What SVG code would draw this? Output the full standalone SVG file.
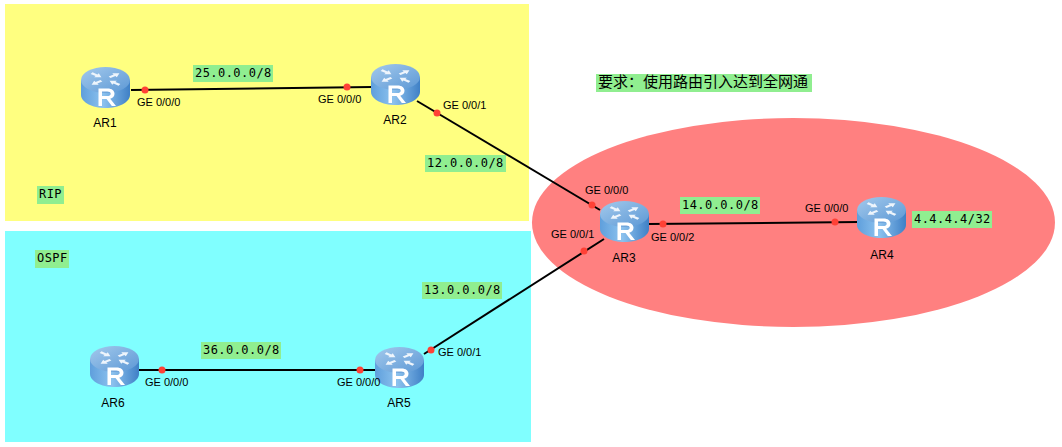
<svg xmlns="http://www.w3.org/2000/svg" width="1062" height="447" viewBox="0 0 1062 447">
<style>
.ge{font:11px "Liberation Sans",Arial,sans-serif;fill:#000}
.name{font:12px "Liberation Sans",Arial,sans-serif;fill:#000;text-anchor:middle}
.net{font:12px "DejaVu Sans Mono","Liberation Mono",monospace;fill:#000;letter-spacing:.45px}
.bg{fill:#90ee90}
.link{stroke:#000;stroke-width:2;fill:none}
.dot{fill:#ff4136}
</style>
<defs>
<linearGradient id="side" x1="0" x2="1" y1="0" y2="0"><stop offset="0" stop-color="#5f9fdc"/><stop offset=".45" stop-color="#8cc2ee"/><stop offset="1" stop-color="#3f80c6"/></linearGradient>
<linearGradient id="top" x1="0" x2="1" y1="0" y2="1"><stop offset="0" stop-color="#a3c9ec"/><stop offset="1" stop-color="#5c98d5"/></linearGradient>
<path id="arr" d="M5 -1.600H11V-4L17 0 11 4V1.600H5Z" fill="#eef5fc"/>
<g id="router">
<path d="M0 13V28C0 35 11 41 24.500 41S49 35 49 28V13Z" fill="url(#side)"/>
<ellipse cx="24.500" cy="13" rx="24.500" ry="13" fill="url(#top)"/>
<g transform="translate(24.500 12) scale(1 .6)">
<use href="#arr" transform="rotate(-35)"/>
<use href="#arr" transform="rotate(145)"/>
<use href="#arr" transform="rotate(215) translate(22 0) rotate(180)"/>
<use href="#arr" transform="rotate(35) translate(22 0) rotate(180)"/>
</g>
<path d="M17.500 39V21.500h9c4.500 0 7 2.200 7 5.300 0 2.600-1.700 4.300-4.300 4.900l5.800 7.300h-4.200l-5.300-7H21v7ZM21 24.500v4.600h5.200c2 0 3.500-.7 3.500-2.300s-1.500-2.300-3.500-2.300Z" fill="#fff"/>
</g>
</defs>
<rect width="1062" height="447" fill="#fff"/>
<g id="zones">
<rect x="5" y="4" width="524" height="217" fill="#ffff80"/>
<rect x="5" y="231" width="526" height="211" fill="#80ffff"/>
<ellipse cx="793.500" cy="222.500" rx="261.500" ry="104.500" fill="#ff8080"/>
</g>
<g id="connectors">
<path class="link" d="M131 90L372 87"/>
<path class="link" d="M417 101L600 210"/>
<path class="link" d="M648 224L859 222"/>
<path class="link" d="M424 354L604 239"/>
<path class="link" d="M138 370H376"/>
<circle class="dot" cx="145" cy="90" r="3.500"/><circle class="dot" cx="347" cy="87" r="3.500"/>
<circle class="dot" cx="437" cy="113" r="3.500"/><circle class="dot" cx="592" cy="205" r="3.500"/>
<circle class="dot" cx="584" cy="251" r="3.500"/><circle class="dot" cx="431" cy="350" r="3.500"/>
<circle class="dot" cx="663" cy="224" r="3.500"/><circle class="dot" cx="835" cy="222" r="3.500"/>
<circle class="dot" cx="162" cy="370" r="3.500"/><circle class="dot" cx="360" cy="370" r="3.500"/>
</g>
<g id="AR1"><use href="#router" x="81" y="67"/><text class="name" x="105" y="127">AR1</text></g>
<g id="AR2"><use href="#router" x="371" y="64"/><text class="name" x="395" y="124">AR2</text></g>
<g id="AR3"><use href="#router" x="600" y="201"/><text class="name" x="624" y="262">AR3</text></g>
<g id="AR4"><use href="#router" x="857" y="197"/><text class="name" x="882" y="259">AR4</text></g>
<g id="AR5"><use href="#router" x="375" y="347"/><text class="name" x="399" y="407">AR5</text></g>
<g id="AR6"><use href="#router" x="90" y="346"/><text class="name" x="113" y="407">AR6</text></g>
<g id="port-labels">
<text class="ge" x="137" y="106">GE 0/0/0</text>
<text class="ge" x="318" y="103">GE 0/0/0</text>
<text class="ge" x="443" y="109">GE 0/0/1</text>
<text class="ge" x="585" y="194">GE 0/0/0</text>
<text class="ge" x="551" y="238">GE 0/0/1</text>
<text class="ge" x="651" y="241">GE 0/0/2</text>
<text class="ge" x="805" y="212">GE 0/0/0</text>
<text class="ge" x="145" y="386">GE 0/0/0</text>
<text class="ge" x="337" y="386">GE 0/0/0</text>
<text class="ge" x="438" y="356">GE 0/0/1</text>
</g>
<g id="net-labels">
<rect class="bg" x="193" y="65" width="80" height="17"/><text class="net" x="195" y="77">25.0.0.0/8</text>
<rect class="bg" x="425" y="155" width="81" height="17"/><text class="net" x="427" y="167">12.0.0.0/8</text>
<rect class="bg" x="680" y="197" width="80" height="17"/><text class="net" x="682" y="209">14.0.0.0/8</text>
<rect class="bg" x="912" y="211" width="80" height="17"/><text class="net" x="914" y="223">4.4.4.4/32</text>
<rect class="bg" x="422" y="282" width="80" height="17"/><text class="net" x="424" y="294">13.0.0.0/8</text>
<rect class="bg" x="201" y="342" width="80" height="17"/><text class="net" x="203" y="354">36.0.0.0/8</text>
<rect class="bg" x="37" y="186" width="27" height="18"/><text class="net" x="39" y="198">RIP</text>
<rect class="bg" x="35" y="250" width="34" height="18"/><text class="net" x="37" y="262">OSPF</text>
<rect class="bg" x="596" y="74" width="216" height="18"/>
<text x="598" y="87" font-family="'Noto Sans CJK SC',sans-serif" font-size="15" fill="#000">要求&#xFF1A;使用路由引入达到全网通</text>
</g>
</svg>
